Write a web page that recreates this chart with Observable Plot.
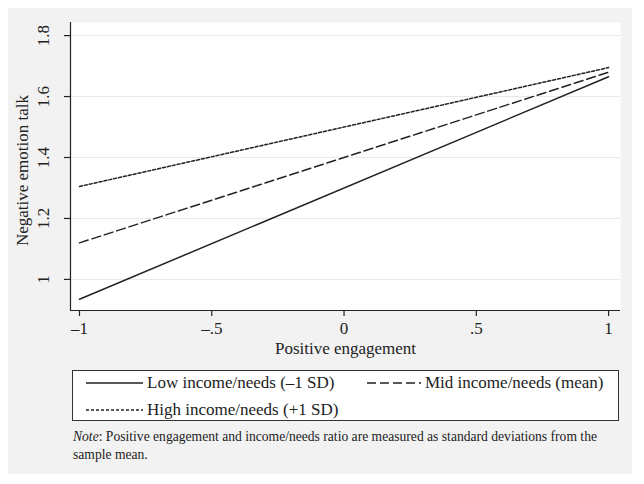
<!DOCTYPE html>
<html><head><meta charset="utf-8">
<script src="https://cdn.jsdelivr.net/npm/d3@7"></script>
<script src="https://cdn.jsdelivr.net/npm/@observablehq/plot@0.6"></script>
<style>
body{margin:0;background:#fff;font-family:"Times New Roman","Liberation Serif","DejaVu Serif",serif;}
#bg{position:absolute;left:8px;top:8px;width:624px;height:466px;background:#f2f2f2;}
#chart{position:absolute;left:0;top:0;}
#legend{position:absolute;left:72px;top:370px;width:545px;height:49px;border:1px solid #333;background:#fff;font-size:17px;color:#222;}
.item{position:absolute;display:flex;align-items:center;white-space:nowrap;}
.item svg{margin-right:4px;}
#note{position:absolute;left:73px;top:428px;width:548px;font-size:13.6px;line-height:18px;color:#222;}
</style></head>
<body>
<div id="bg"></div>
<div id="chart"></div>
<div id="legend"></div>
<div id="note"><i>Note</i><span>: Positive engagement and income/needs ratio are measured as standard deviations from the sample mean.</span></div>
<script>
const xValues = [-1, 1];
const lowIncome = [0.935, 1.665];
const midIncome = [1.12, 1.68];
const highIncome = [1.305, 1.695];
const seriesNames = ["Low income/needs (\u20131 SD)", "Mid income/needs (mean)", "High income/needs (+1 SD)"];
const xTicks = [-1, -0.5, 0, 0.5, 1];
const xTickLabels = ["\u20131", "\u2013.5", "0", ".5", "1"];
const yTicks = [1, 1.2, 1.4, 1.6, 1.8];
const yTickLabels = ["1", "1.2", "1.4", "1.6", "1.8"];
const xDomain = [-1.034, 1.045];
const yDomain = [0.898, 1.843];
const dashes = [null, "9,4", "3,2"];

const rows = [];
[lowIncome, midIncome, highIncome].forEach((s, i) => {
  xValues.forEach((x, j) => rows.push({series: seriesNames[i], x, y: s[j]}));
});

const ink = "#222";
const serif = "'Times New Roman', 'Liberation Serif', serif";
const fs = 17;
const chart = Plot.plot({
  width: 644, height: 370,
  marginLeft: 70, marginRight: 24, marginTop: 22, marginBottom: 60,
  style: {background: "transparent", fontFamily: serif, fontSize: fs + "px", color: ink},
  x: {domain: xDomain, axis: null},
  y: {domain: yDomain, axis: null},
  marks: [
    Plot.frame({fill: "white", stroke: null}),
    Plot.ruleY(yTicks, {stroke: "#e8e8e8", strokeWidth: 1}),
    Plot.axisX(xTicks, {tickSize: 6, tickFormat: (d, i) => xTickLabels[i], tickPadding: 5, stroke: ink, strokeWidth: 1.2, fontSize: fs, fontFamily: serif, label: null}),
    Plot.axisY(yTicks, {tickSize: 6, text: null, stroke: ink, strokeWidth: 1.2, label: null}),
    Plot.text(yTicks, {x: xDomain[0], y: d => d, text: (d, i) => yTickLabels[i], rotate: -90, dx: -27, fontSize: fs, fontFamily: serif, fill: ink}),
    Plot.ruleX([xDomain[0]], {stroke: ink, strokeWidth: 1.2}),
    Plot.ruleY([yDomain[0]], {stroke: ink, strokeWidth: 1.2}),
    Plot.text(["Negative emotion talk"], {frameAnchor: "left", textAnchor: "middle", dx: -48, dy: 4, rotate: -90, fontSize: fs, fontFamily: serif, fill: ink}),
    Plot.text(["Positive engagement"], {frameAnchor: "bottom", dy: 43, fontSize: fs, fontFamily: serif, fill: ink}),
    ...seriesNames.map((name, i) => Plot.line(rows.filter(r => r.series === name), {x: "x", y: "y", stroke: ink, strokeWidth: 1.5, strokeDasharray: dashes[i]}))
  ]
});
document.getElementById("chart").appendChild(chart);

const legend = document.getElementById("legend");
const pos = [[13, 13], [294, 13], [13, 40]];
seriesNames.forEach((name, i) => {
  const d = document.createElement("div");
  d.className = "item";
  d.style.left = pos[i][0] + "px";
  d.style.top = (pos[i][1] - 11) + "px";
  const w = i === 1 ? 54 : 57;
  d.innerHTML = `<svg width="${w}" height="6"><line x1="0" x2="${w}" y1="3" y2="3" stroke="${ink}" stroke-width="1.5" ${dashes[i] ? `stroke-dasharray="${dashes[i]}"` : ""}/></svg><span>${name}</span>`;
  legend.appendChild(d);
});
</script>
</body></html>
